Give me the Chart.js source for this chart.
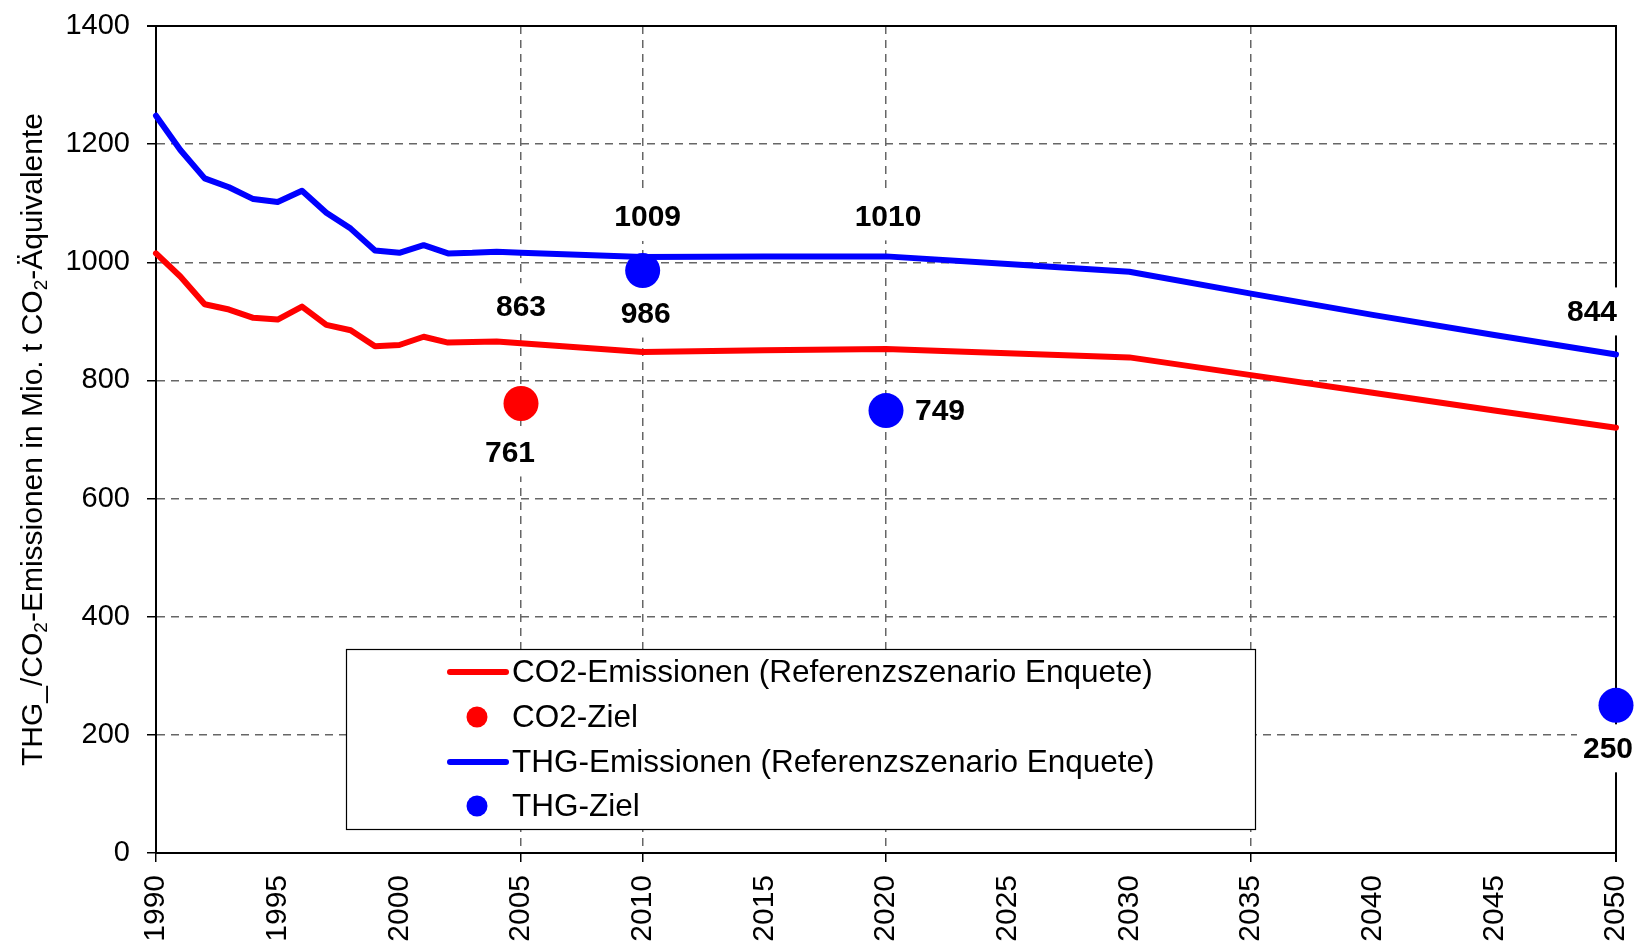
<!DOCTYPE html>
<html>
<head>
<meta charset="utf-8">
<script src="https://cdn.jsdelivr.net/npm/chart.js@4.4.1/dist/chart.umd.min.js"></script>
<style>
html,body{margin:0;padding:0;background:#fff;}
#wrap{width:1634px;height:944px;position:relative;}
</style>
</head>
<body>
<div id="wrap"><canvas id="c" width="1634" height="944"></canvas></div>
<script>
// ---------- data ----------
const years = [1990,1991,1992,1993,1994,1995,1996,1997,1998,1999,2000,2001,2002,2003,2004,2005,2010,2015,2020,2025,2030,2035,2040,2045,2050];
const co2Emissions = [1015,976,929,920,906,903,925,894,885,858,860,874,864,865,866,863,848,851,853,846,839,809,779,749,720];
const thgEmissions = [1248,1190,1142,1127,1107,1102,1121,1084,1057,1020,1016,1029,1015,1016,1018,1016,1009,1010,1010,997,984,947,911,877,844];
const co2TargetYears = [2005];
const co2TargetValues = [761];
const thgTargetYears = [2010, 2020, 2050];
const thgTargetValues = [986, 749, 250];
const yTickValues = [0,200,400,600,800,1000,1200,1400];
const xTickValues = [1990,1995,2000,2005,2010,2015,2020,2025,2030,2035,2040,2045,2050];
const xGridYears = [2005, 2010, 2020, 2035];
const xTickMarkYears = [1990, 2005, 2010, 2020, 2035, 2050];
const seriesLabels = [
  'CO2-Emissionen (Referenzszenario Enquete)',
  'CO2-Ziel',
  'THG-Emissionen (Referenzszenario Enquete)',
  'THG-Ziel'
];
const yTitleParts = [
  ['THG_/CO', false], ['2', true], ['-Emissionen in Mio. t CO', false], ['2', true], ['-Äquivalente', false]
];

// ---------- styling ----------
const FONT = '"Liberation Sans", Arial, Helvetica, sans-serif';
const RED = '#ff0000', BLUE = '#0000ff';
const GRID = '#666666';
const toXY = (xs, ys) => xs.map((x, i) => ({ x: x, y: ys[i] }));

// value labels: dataset index, x value, offsets of the label centre from the point
const valueLabels = [
  { ds: 0, x: 2005, dx: 0,   dy: -36 },
  { ds: 1, x: 2005, dx: -11, dy: 49 },
  { ds: 2, x: 2010, dx: 5,   dy: -40 },
  { ds: 2, x: 2020, dx: 2,   dy: -40 },
  { ds: 2, x: 2050, dx: -24, dy: -43 },
  { ds: 3, x: 2010, dx: 3,   dy: 43 },
  { ds: 3, x: 2020, dx: 54,  dy: 0 },
  { ds: 3, x: 2050, dx: -8,  dy: 43 }
];

const zeroPad = s => { s.paddingLeft = 0; s.paddingRight = 0; s.paddingTop = 0; s.paddingBottom = 0; };

const framePlugin = {
  id: 'frame',
  beforeDatasetsDraw(chart) {
    const { ctx, chartArea: a } = chart;
    ctx.save();
    ctx.strokeStyle = '#000';
    ctx.lineWidth = 2;
    ctx.beginPath();
    ctx.moveTo(a.left - 9, a.top);
    ctx.lineTo(a.right, a.top);
    ctx.lineTo(a.right, a.bottom + 9);
    ctx.stroke();
    ctx.restore();
  }
};

const labelPlugin = {
  id: 'valueLabels',
  afterDatasetsDraw(chart) {
    const { ctx } = chart;
    const xs = chart.scales.x, ys = chart.scales.y;
    ctx.save();
    ctx.font = 'bold 30px ' + FONT;
    ctx.textAlign = 'center';
    ctx.textBaseline = 'middle';
    valueLabels.forEach(l => {
      const pt = chart.data.datasets[l.ds].data.find(p => p.x === l.x);
      if (!pt) return;
      const txt = String(pt.y);
      const cx = xs.getPixelForValue(pt.x) + l.dx;
      const cy = ys.getPixelForValue(pt.y) + l.dy;
      const w = ctx.measureText(txt).width;
      ctx.fillStyle = '#fff';
      ctx.fillRect(cx - w / 2 - 6, cy - 24, w + 12, 48);
      ctx.fillStyle = '#000';
      ctx.fillText(txt, cx, cy + 1);
    });
    ctx.restore();
  }
};

const legendPlugin = {
  id: 'boxLegend',
  afterDraw(chart) {
    const { ctx } = chart;
    const box = { x: 346, y: 649, w: 909, h: 180 };
    const rowY = [672, 717, 762, 806];
    ctx.save();
    ctx.fillStyle = '#fff';
    ctx.fillRect(box.x, box.y, box.w, box.h);
    ctx.strokeStyle = '#000';
    ctx.lineWidth = 1.2;
    ctx.strokeRect(box.x + 0.5, box.y + 0.5, box.w, box.h);
    ctx.font = '31.5px ' + FONT;
    ctx.textBaseline = 'middle';
    ctx.textAlign = 'left';
    chart.data.datasets.forEach((ds, i) => {
      const y = rowY[i];
      const col = ds.borderColor;
      if (ds.showLine === false) {
        ctx.fillStyle = col;
        ctx.beginPath();
        ctx.arc(477, y, 10.5, 0, Math.PI * 2);
        ctx.fill();
      } else {
        ctx.strokeStyle = col;
        ctx.lineWidth = 6;
        ctx.lineCap = 'round';
        ctx.beginPath();
        ctx.moveTo(450, y);
        ctx.lineTo(506, y);
        ctx.stroke();
      }
      ctx.fillStyle = '#000';
      ctx.fillText(ds.label, 512, y + 1);
    });
    ctx.restore();
  }
};

const yTitlePlugin = {
  id: 'yTitle',
  afterDraw(chart) {
    const { ctx, chartArea: a } = chart;
    const mainFont = '30px ' + FONT, subFont = '19px ' + FONT;
    ctx.save();
    let total = 0;
    yTitleParts.forEach(([t, sub]) => { ctx.font = sub ? subFont : mainFont; total += ctx.measureText(t).width; });
    ctx.translate(31, (a.top + a.bottom) / 2);
    ctx.rotate(-Math.PI / 2);
    ctx.fillStyle = '#000';
    ctx.textBaseline = 'alphabetic';
    ctx.textAlign = 'left';
    let x = -total / 2;
    yTitleParts.forEach(([t, sub]) => {
      ctx.font = sub ? subFont : mainFont;
      ctx.fillText(t, x, sub ? 15.5 : 10.5);
      x += ctx.measureText(t).width;
    });
    ctx.restore();
  }
};

new Chart(document.getElementById('c').getContext('2d'), {
  type: 'line',
  data: {
    datasets: [
      { label: seriesLabels[0], data: toXY(years, co2Emissions), borderColor: RED, backgroundColor: RED,
        borderWidth: 6, pointRadius: 0, pointHoverRadius: 0, tension: 0, fill: false,
        borderCapStyle: 'round', borderJoinStyle: 'round', clip: false, order: 4 },
      { label: seriesLabels[1], data: toXY(co2TargetYears, co2TargetValues), showLine: false,
        borderColor: RED, backgroundColor: RED, pointBackgroundColor: RED, pointBorderWidth: 0,
        pointRadius: 17.5, pointHoverRadius: 17.5, clip: false, order: 2 },
      { label: seriesLabels[2], data: toXY(years, thgEmissions), borderColor: BLUE, backgroundColor: BLUE,
        borderWidth: 6, pointRadius: 0, pointHoverRadius: 0, tension: 0, fill: false,
        borderCapStyle: 'round', borderJoinStyle: 'round', clip: false, order: 3 },
      { label: seriesLabels[3], data: toXY(thgTargetYears, thgTargetValues), showLine: false,
        borderColor: BLUE, backgroundColor: BLUE, pointBackgroundColor: BLUE, pointBorderWidth: 0,
        pointRadius: 17.5, pointHoverRadius: 17.5, clip: false, order: 1 }
    ]
  },
  options: {
    responsive: false,
    animation: false,
    devicePixelRatio: 1,
    events: [],
    layout: { padding: { top: 26, right: 18, left: 0, bottom: 0 } },
    plugins: { legend: { display: false }, tooltip: { enabled: false }, title: { display: false } },
    scales: {
      x: {
        type: 'linear', min: 1990, max: 2050,
        afterBuildTicks: s => { s.ticks = xTickValues.map(v => ({ value: v })); },
        afterFit: s => { s.height = 91; zeroPad(s); },
        ticks: {
          autoSkip: false, minRotation: 90, maxRotation: 90, color: '#000',
          font: { family: FONT, size: 30 }, padding: 13, callback: v => String(v)
        },
        grid: {
          color: c => (c.tick && xGridYears.includes(c.tick.value)) ? GRID : 'rgba(0,0,0,0)',
          lineWidth: 1.5,
          tickColor: c => (c.tick && xTickMarkYears.includes(c.tick.value)) ? '#000' : 'rgba(0,0,0,0)',
          tickLength: 9, tickWidth: 1.5, tickBorderDash: [1, 0]
        },
        border: { display: true, color: '#000', width: 2, dash: [8, 6] }
      },
      y: {
        min: 0, max: 1400,
        afterBuildTicks: s => { s.ticks = yTickValues.map(v => ({ value: v })); },
        afterFit: s => { s.width = 156; zeroPad(s); },
        ticks: { color: '#000', font: { family: FONT, size: 29 }, padding: 17, callback: v => String(v) },
        grid: {
          color: c => (c.tick && c.tick.value > 0 && c.tick.value < 1400) ? GRID : 'rgba(0,0,0,0)',
          lineWidth: 1.5,
          tickColor: '#000', tickLength: 9, tickWidth: 1.5, tickBorderDash: [1, 0]
        },
        border: { display: true, color: '#000', width: 2, dash: [8, 6] }
      }
    }
  },
  plugins: [framePlugin, labelPlugin, legendPlugin, yTitlePlugin]
});
</script>
</body>
</html>
